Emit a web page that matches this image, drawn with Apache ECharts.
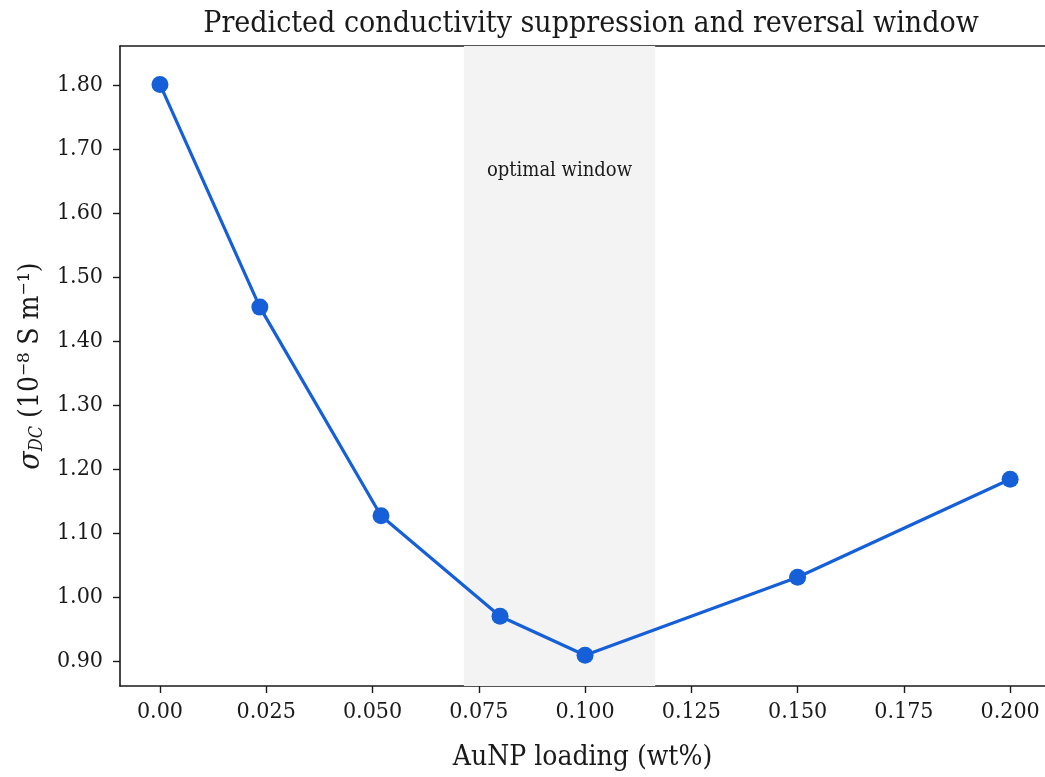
<!DOCTYPE html>
<html>
<head>
<meta charset="utf-8">
<script src="https://cdn.jsdelivr.net/npm/echarts@6/dist/echarts.min.js"></script>
<style>
  html, body { margin: 0; padding: 0; background: #fff; }
  #chart { width: 1045px; height: 777px; }
</style>
</head>
<body>
<div id="chart"></div>
<script>
    // AuNP loading (wt%) and predicted DC conductivity (1e-8 S/m)
    var loading = [0.000, 0.0235, 0.052, 0.080, 0.100, 0.150, 0.200];
    var sigmaDC = [1.801, 1.453, 1.127, 0.970, 0.909, 1.031, 1.184];

    var xTicks = [0, 0.025, 0.05, 0.075, 0.1, 0.125, 0.15, 0.175, 0.2];
    var xTickLabels = ['0.00', '0.025', '0.050', '0.075', '0.100', '0.125', '0.150', '0.175', '0.200'];
    var yTicks = [0.9, 1.0, 1.1, 1.2, 1.3, 1.4, 1.5, 1.6, 1.7, 1.8];
    var yTickLabels = ['0.90', '1.00', '1.10', '1.20', '1.30', '1.40', '1.50', '1.60', '1.70', '1.80'];

    var windowRange = [0.0715, 0.1165];
    var windowLabel = 'optimal window';

    var serif = "'DejaVu Serif Condensed', 'DejaVu Serif', serif";
    var ink = '#1a1a1a';
    var blue = '#1560d8';

    function nearestLabel(ticks, labels, v) {
        for (var i = 0; i < ticks.length; i++) {
            if (Math.abs(ticks[i] - v) < 1e-6) return labels[i];
        }
        return '';
    }

    var myChart = echarts.init(document.getElementById('chart'), null, {renderer: 'canvas'});

    // plot runs past the right edge of the canvas, so the right spine is not shown
    var option = {
        backgroundColor: '#ffffff',
        animation: false,
        title: {
            text: 'Predicted conductivity suppression and reversal window',
            left: 586,
            top: 4,
            textAlign: 'center',
            textStyle: {
                fontFamily: serif,
                fontSize: 30,
                fontWeight: 'normal',
                color: ink
            }
        },
        grid: {
            left: 120,
            top: 46,
            right: 0,
            bottom: 91,
            show: false,
            containLabel: false
        },
        xAxis: [{
            type: 'value',
            min: -0.0094,
            max: 0.2082,
            name: 'AuNP loading (wt%)',
            nameLocation: 'middle',
            nameGap: 58,
            nameTextStyle: {fontFamily: serif, fontSize: 28, color: ink},
            axisLine: {show: true, onZero: false, lineStyle: {color: ink, width: 1.6}},
            axisTick: {show: true, length: 7, lineStyle: {color: ink, width: 1.4}, customValues: xTicks},
            axisLabel: {
                customValues: xTicks,
                margin: 15,
                fontFamily: serif,
                fontSize: 23,
                color: ink,
                formatter: function (v) { return nearestLabel(xTicks, xTickLabels, v); }
            },
            splitLine: {show: false}
        }, {
            type: 'value',
            position: 'top',
            min: -0.0094,
            max: 0.2082,
            axisLine: {show: true, onZero: false, lineStyle: {color: ink, width: 1.6}},
            axisTick: {show: false},
            axisLabel: {show: false},
            splitLine: {show: false}
        }],
        yAxis: {
            type: 'value',
            min: 0.861,
            max: 1.861,
            name: '{s|σ}{sub|DC}{n| (10⁻⁸ S m⁻¹)}',
            nameLocation: 'middle',
            nameRotate: 90,
            nameGap: 68,
            nameTextStyle: {
                fontFamily: serif,
                fontSize: 28,
                color: ink,
                rich: {
                    s: {fontFamily: serif, fontSize: 30, fontStyle: 'italic', color: ink},
                    sub: {fontFamily: serif, fontSize: 18, fontStyle: 'italic', color: ink, verticalAlign: 'bottom', padding: [11, 0, 0, 0]},
                    n: {fontFamily: serif, fontSize: 28, color: ink}
                }
            },
            axisLine: {show: true, onZero: false, lineStyle: {color: ink, width: 1.6}},
            axisTick: {show: true, length: 7, lineStyle: {color: ink, width: 1.4}, customValues: yTicks},
            axisLabel: {
                customValues: yTicks,
                margin: 17,
                fontFamily: serif,
                fontSize: 23,
                color: ink,
                formatter: function (v) { return nearestLabel(yTicks, yTickLabels, v); }
            },
            splitLine: {show: false}
        },
        series: [{
            type: 'line',
            data: loading.map(function (x, i) { return [x, sigmaDC[i]]; }),
            symbol: 'circle',
            symbolSize: 17,
            lineStyle: {color: blue, width: 3.2},
            itemStyle: {color: blue},
            z: 5,
            markArea: {
                silent: true,
                itemStyle: {color: '#f3f3f3'},
                label: {
                    show: true,
                    position: ['50%', 125],
                    align: 'center',
                    verticalAlign: 'middle',
                    fontFamily: serif,
                    fontSize: 20,
                    color: ink
                },
                data: [[
                    {name: windowLabel, xAxis: windowRange[0]},
                    {xAxis: windowRange[1]}
                ]]
            }
        }]
    };

    myChart.setOption(option);
</script>
</body>
</html>
